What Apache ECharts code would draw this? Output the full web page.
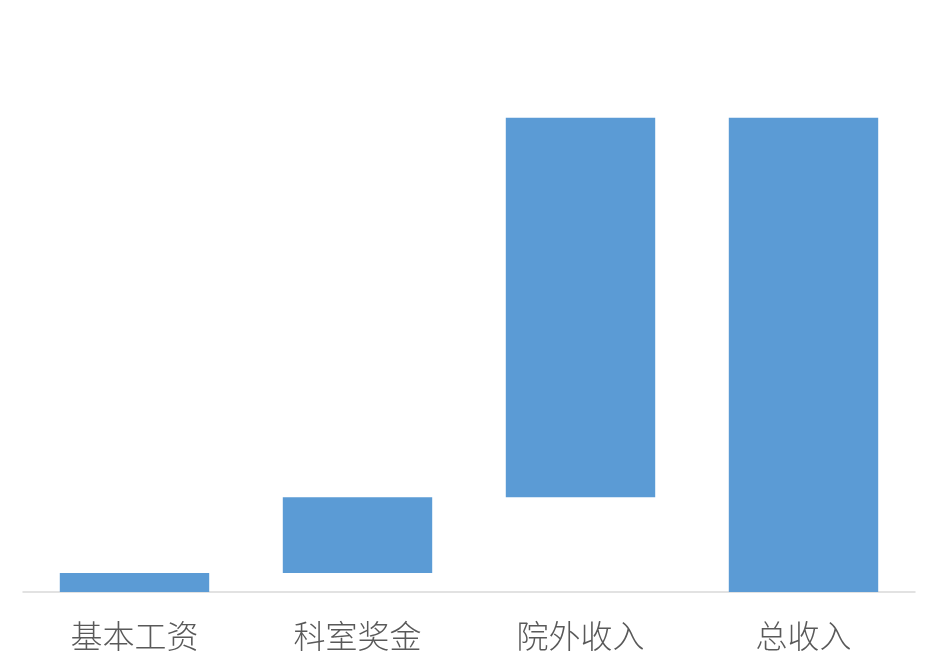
<!DOCTYPE html>
<html>
<head>
<meta charset="utf-8">
<script src="https://cdn.jsdelivr.net/npm/echarts@6/dist/echarts.min.js"></script>
<style>
  html, body { margin: 0; padding: 0; background: #fff; }
  #chart { width: 938px; height: 671px; }
</style>
</head>
<body>
<div id="chart"></div>
<script>
var categories = ['基本工资', '科室奖金', '院外收入', '总收入'];
var values = [1000, 4000, 20000, 25000];
var isTotal = [false, false, false, true];

// transparent base for the floating bars
var running = 0;
var bases = values.map(function(v, i) {
    if (isTotal[i]) return 0;
    var b = running;
    running += v;
    return b;
});

var myChart = echarts.init(document.getElementById('chart'));

var option = {
    animation: false,
    grid: { left: 23, right: 23, top: 23, bottom: 79 },
    xAxis: {
        type: 'category',
        data: categories,
        axisLine: { lineStyle: { color: '#d9d9d9', width: 1.5 } },
        axisTick: { show: false },
        axisLabel: {
            margin: 28,
            fontSize: 32,
            color: '#595959',
            fontFamily: 'Noto Sans CJK SC',
            fontWeight: 300
        }
    },
    yAxis: {
        type: 'value',
        min: 0,
        max: 30000,
        show: false
    },
    series: [{
        type: 'bar',
        stack: 'w',
        data: bases,
        barWidth: '67%',
        itemStyle: { color: 'transparent' },
        silent: true
    }, {
        type: 'bar',
        stack: 'w',
        data: values,
        barWidth: '67%',
        itemStyle: { color: '#5b9bd5' }
    }]
};

myChart.setOption(option);
</script>
</body>
</html>
